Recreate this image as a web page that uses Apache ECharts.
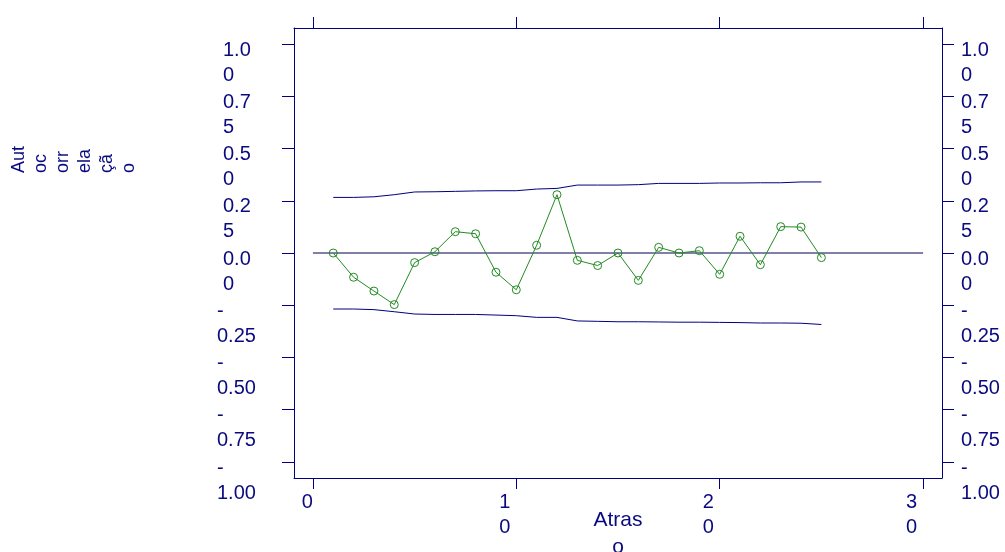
<!DOCTYPE html>
<html>
<head>
<meta charset="utf-8">
<script src="https://cdn.jsdelivr.net/npm/echarts@6/dist/echarts.min.js"></script>
<style>html,body{margin:0;padding:0;background:#fff}#c{width:1005px;height:552px}</style>
</head>
<body>
<div id="c"></div>
<script>
const lags = [1,2,3,4,5,6,7,8,9,10,11,12,13,14,15,16,17,18,19,20,21,22,23,24,25];
const acf = [0.000,-0.116,-0.182,-0.247,-0.046,0.006,0.102,0.092,-0.092,-0.176,0.037,0.279,-0.035,-0.060,0.000,-0.131,0.027,0.000,0.011,-0.102,0.080,-0.056,0.126,0.124,-0.022];
const upper = [0.266,0.266,0.269,0.279,0.292,0.293,0.295,0.297,0.298,0.298,0.306,0.309,0.325,0.325,0.325,0.327,0.333,0.333,0.333,0.335,0.335,0.336,0.336,0.340,0.340];
const lower = [-0.268,-0.268,-0.271,-0.281,-0.292,-0.294,-0.294,-0.294,-0.297,-0.300,-0.308,-0.308,-0.325,-0.327,-0.329,-0.329,-0.330,-0.331,-0.331,-0.332,-0.333,-0.335,-0.335,-0.336,-0.342];
const zeroLine = [[0,0],[30,0]];
const xTicks = [0,10,20,30];
const xTickLabels = ['0','1\n0','2\n0','3\n0'];
const yTicks = [-1,-0.75,-0.5,-0.25,0,0.25,0.5,0.75,1];
const yTickLabels = ['-\n1.00','-\n0.75','-\n0.50','-\n0.25','0.0\n0','0.2\n5','0.5\n0','0.7\n5','1.0\n0'];
const xTitle = 'Atras\no';
const yTitle = 'Aut\noc\norr\nela\nçã\no';

const navy = '#000080';
const txt = '#0a0a80';
const FONT = 'Liberation Sans, Arial, sans-serif';
const pair = (xs, ys) => xs.map((x,i)=>[x, ys[i]]);
const tagLines = (s, tag) => s.split('\n').map((l, i) => '{' + tag + (i === 0 ? '1' : '2') + '|' + l + '}').join('\n');
const lookup = (ticks, labels, v) => {
  const i = ticks.findIndex(t => Math.abs(t - v) < 1e-9);
  return i < 0 ? '' : labels[i];
};
const tok = (extra) => Object.assign({align:'left', color:txt, fontSize:20, fontFamily:FONT}, extra);

const yAxisBase = (pos) => ({
  type:'value', position: pos, min:-1.0766, max:1.0766,
  axisLine:{show:true, onZero:false, lineStyle:{color:navy, width:1}},
  axisTick:{show:true, inside:false, length:12, customValues:yTicks, lineStyle:{color:navy}},
  axisLabel:{show:true, customValues:yTicks, color:txt, fontSize:20, fontFamily:FONT,
    verticalAlign:'top',
    showMinLabel:true, showMaxLabel:true, hideOverlap:false,
    align: pos==='left' ? 'right' : 'left',
    margin: pos==='left' ? 35 : 19,
    formatter:(v)=>{
      const s = lookup(yTicks, yTickLabels, v);
      if (pos === 'right') return tagLines(s, 'r');
      return tagLines(s, v < 0 ? 'n' : 'p');
    },
    rich:{
      p1:tok({width:36, lineHeight:12}), p2:tok({width:36, lineHeight:38}),
      n1:tok({width:42, lineHeight:12}), n2:tok({width:42, lineHeight:38}),
      r1:tok({lineHeight:12}), r2:tok({lineHeight:38})
    }},
  splitLine:{show:false}
});

const chart = echarts.init(document.getElementById('c'), null, {renderer:'canvas'});
chart.setOption({
  animation:false,
  backgroundColor:'#ffffff',
  grid:{left:294, right:63, top:28, bottom:74, containLabel:false, outerBoundsMode:'none'},
  xAxis:[
    {type:'value', position:'bottom', min:-0.93, max:30.93,
     name:xTitle, nameLocation:'middle', nameGap:29, nameMoveOverlap:false,
     nameTextStyle:{color:txt, fontSize:21, fontFamily:FONT, lineHeight:27, verticalAlign:'top'},
     axisLine:{show:true, onZero:false, lineStyle:{color:navy}},
     axisTick:{show:true, length:11, customValues:xTicks, lineStyle:{color:navy}},
     axisLabel:{show:true, customValues:xTicks, color:txt, fontSize:20, fontFamily:FONT, lineHeight:25, margin:12,
       align:'right', showMinLabel:true, showMaxLabel:true,
       formatter:(v)=>{
         const s = lookup(xTicks, xTickLabels, v);
         return s.split('\n').map(l => '{' + (s.indexOf('\n') >= 0 ? 'm' : 's') + '|' + l + '}').join('\n');
       },
       rich:{
         s:tok({width:11.1, lineHeight:25}),
         m:tok({width:17, lineHeight:25})
       }},
     splitLine:{show:false}},
    {type:'value', position:'top', min:-0.93, max:30.93,
     axisLine:{show:true, onZero:false, lineStyle:{color:navy}},
     axisTick:{show:true, length:11, customValues:xTicks, lineStyle:{color:navy}},
     axisLabel:{show:false},
     splitLine:{show:false}}
  ],
  yAxis:[yAxisBase('left'), yAxisBase('right')],
  graphic:[{type:'text', x:8, y:173, rotation:Math.PI/2,
    style:{text:yTitle, fill:txt, fontSize:18, lineHeight:22,
      fontFamily:FONT, textAlign:'left', textVerticalAlign:'top'}}],
  series:[
    {type:'line', data:zeroLine, symbol:'none', lineStyle:{color:'#000050', width:1}, silent:true},
    {type:'line', data:pair(lags, upper), symbol:'none', lineStyle:{color:navy, width:1}},
    {type:'line', data:pair(lags, lower), symbol:'none', lineStyle:{color:navy, width:1}},
    {type:'line', data:pair(lags, acf), symbol:'circle', symbolSize:8,
     itemStyle:{color:'rgba(0,0,0,0)', borderColor:'#228B22', borderWidth:1},
     lineStyle:{color:'#228B22', width:1}}
  ]
});
</script>
</body>
</html>
